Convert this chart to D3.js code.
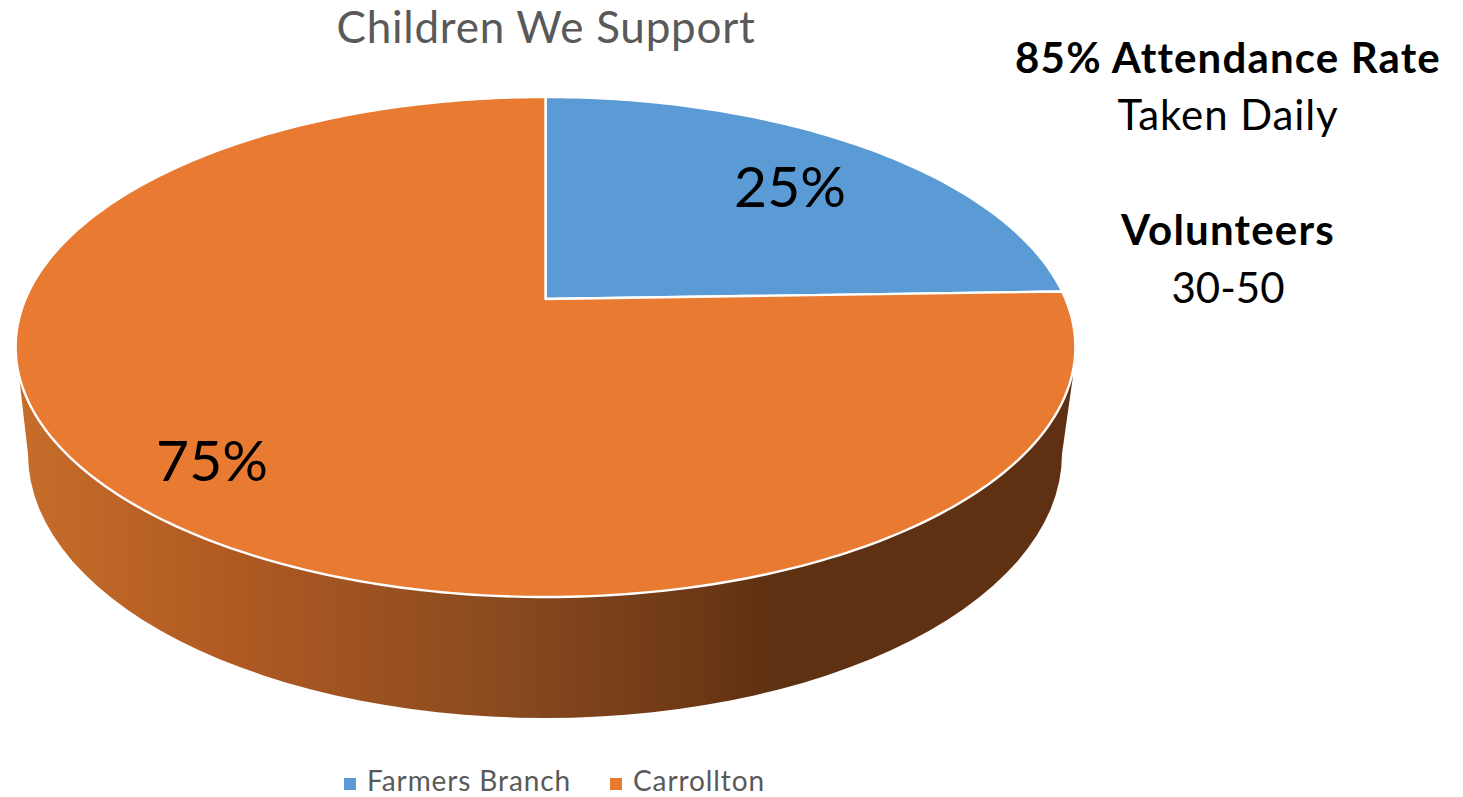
<!DOCTYPE html>
<html><head><meta charset="utf-8">
<script src="https://cdn.jsdelivr.net/npm/d3@7"></script>
<style>html,body{margin:0;padding:0;background:#fff}svg{display:block}text{font-family:Lato,Carlito,sans-serif}</style>
</head><body><svg id="c" width="1463" height="797"></svg>
<script>
const categories = ["Farmers Branch", "Carrollton"];
const values = [24.5, 75.5];
const percentLabels = ["25%", "75%"];
const colors = ["#5b9bd5", "#e97a32"];
const chartTitle = "Children We Support";
const noteTexts = ["85% Attendance Rate", "Taken Daily", "Volunteers", "30-50"];
const noteBold = [true, false, true, false];

const noteY = [73, 130, 245, 303];
const noteSpacing = [1.15, 0.9, 1.2, 0];
const labelPos = [[790,207],[212,481]];

const svg = d3.select("#c");
const defs = svg.append("defs");
const grad = defs.append("linearGradient").attr("id","wall").attr("gradientUnits","userSpaceOnUse")
  .attr("x1",20).attr("x2",1080).attr("y1",0).attr("y2",0);
[[20,"#c66d2a"],[230,"#b05a22"],[500,"#8a4a1f"],[700,"#6c3815"],[770,"#5e3112"],[1080,"#5f3112"]]
  .forEach(s=>grad.append("stop").attr("offset",(s[0]-20)/1060).attr("stop-color",s[1]));

// perspective projection of the pie's unit disc on the picture
const x0=545.5, y0=299, k=0.192, a=520, b=240.8;
const project = t => { const u=Math.sin(t), v=Math.cos(t), w=1+k*v; return [x0+a*u/w, y0-b*v/w]; };
const line = d3.line();
const pie = d3.pie().sort(null).value(d=>d)(values);

// side wall: lower rim of the pie, drawn behind the top face
const cx=545, cy=454, rx=517, ry=264;
const rim = d3.range(0,181,3).map(d=>{const t=d*Math.PI/180;return [cx+rx*Math.cos(t), cy+ry*Math.sin(t)];});
const wallPts = [[1073,376], ...rim, [19,376]];
svg.append("path").attr("d",line(wallPts)+"Z").attr("fill","url(#wall)");

// top faces
svg.selectAll("path.slice").data(pie).join("path").attr("class","slice")
  .attr("d",d=>{
    const n=Math.max(8,Math.round((d.endAngle-d.startAngle)*60));
    const pts=d3.range(n+1).map(i=>project(d.startAngle+(d.endAngle-d.startAngle)*i/n));
    return line([[x0,y0],...pts])+"Z";
  })
  .attr("fill",(d,i)=>colors[i]).attr("stroke","#fff").attr("stroke-width",2.4).attr("stroke-linejoin","round");

svg.selectAll("text.pct").data(percentLabels).join("text").attr("class","pct")
  .attr("x",(d,i)=>labelPos[i][0]).attr("y",(d,i)=>labelPos[i][1])
  .attr("text-anchor","middle").attr("font-size",57).attr("fill","#000").text(d=>d);

svg.append("text").attr("x",546).attr("y",43).attr("text-anchor","middle")
  .attr("font-size",44).attr("letter-spacing",0.75).attr("fill","#595959").text(chartTitle);

svg.selectAll("text.note").data(noteTexts).join("text").attr("class","note")
  .attr("x",1228).attr("y",(d,i)=>noteY[i]).attr("text-anchor","middle").attr("font-size",42)
  .attr("letter-spacing",(d,i)=>noteSpacing[i])
  .attr("font-weight",(d,i)=>noteBold[i]?700:400).attr("fill","#000").text(d=>d);

const legendX=[344,610];
const lg=svg.selectAll("g.lg").data(categories).join("g").attr("class","lg");
lg.append("rect").attr("x",(d,i)=>legendX[i]).attr("y",778).attr("width",12).attr("height",12).attr("fill",(d,i)=>colors[i]);
lg.append("text").attr("x",(d,i)=>legendX[i]+23).attr("y",791).attr("font-size",28).attr("letter-spacing",0.9).attr("fill","#595959").text(d=>d);
</script></body></html>
